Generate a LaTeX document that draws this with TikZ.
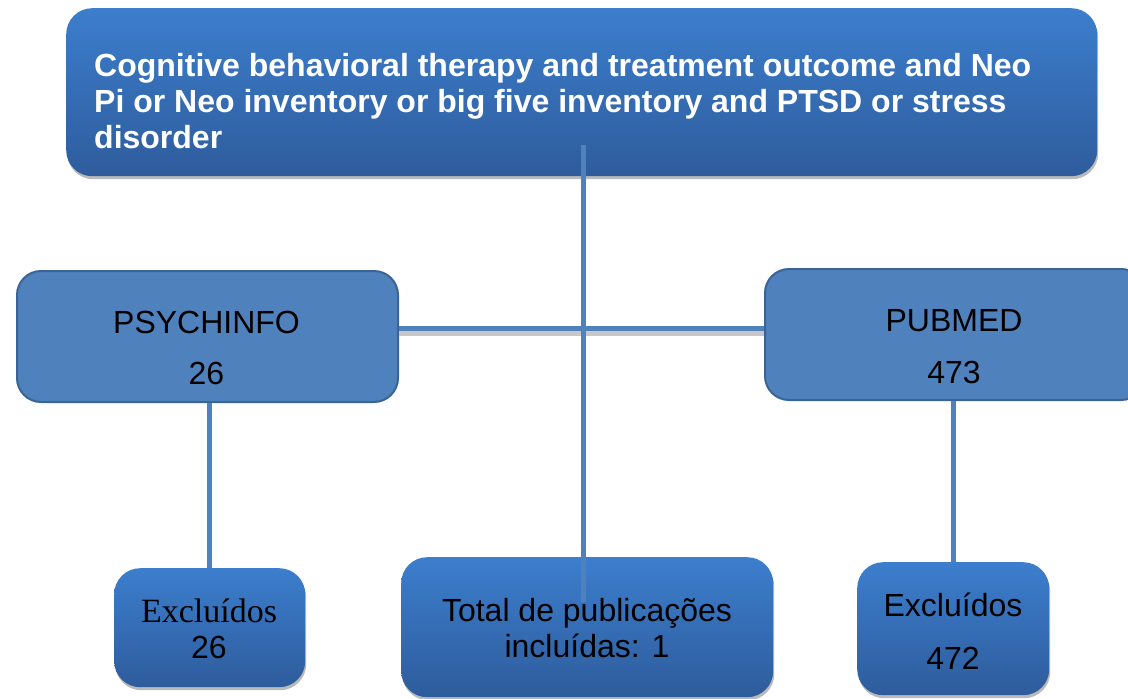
\documentclass[tikz,border=0pt]{standalone}
\usepackage{fontspec}
\setmainfont{Liberation Sans}
\newfontfamily\timesfont{Liberation Serif}
\usetikzlibrary{shadows}
\definecolor{gradtop}{HTML}{3C7ECD}
\definecolor{gradbot}{HTML}{2E5C9C}
\definecolor{flatfill}{HTML}{4F81BD}
\definecolor{flatedge}{HTML}{3A6496}
\definecolor{linkblue}{HTML}{4F81BD}
\tikzset{
  gradbox/.style={rounded corners=26pt, top color=gradtop, bottom color=gradbot,
    draw=none, inner sep=0pt, anchor=north west,
    drop shadow={shadow xshift=1pt, shadow yshift=-3pt, fill=black!45, opacity=0.6}},
  flatbox/.style={rounded corners=24pt, fill=flatfill, draw=flatedge,
    line width=2pt, inner sep=0pt, anchor=north west},
  lbl/.style={anchor=base, font=\fontsize{32}{36}\selectfont, inner sep=0pt},
  titleline/.style={anchor=base west, font=\fontsize{32}{36}\selectfont\bfseries,
    text=white, inner sep=0pt},
  link/.style={draw=linkblue, line width=5pt},
  linkshadow/.style={draw=black!22, line width=4.5pt},
}
\begin{document}
\begin{tikzpicture}[x=1pt,y=-1pt]
  \useasboundingbox[fill=white] (0,0) rectangle (1128,699);

  % boxes
  \node[gradbox, minimum width=1031pt, minimum height=168pt] (query) at (66,8) {};
  \node[flatbox, minimum width=381pt, minimum height=131pt] (psy) at (16,270) {};
  \node[flatbox, minimum width=380pt, minimum height=131pt] (pub) at (764,268) {};
  \node[gradbox, minimum width=191pt, minimum height=119pt] (exl) at (114,568) {};
  \node[gradbox, minimum width=372pt, minimum height=140pt] (tot) at (401,557) {};
  \node[gradbox, minimum width=192pt, minimum height=133pt] (exr) at (857,562) {};

  % connectors
  \coordinate (hlevel) at (0,328.3);
  \coordinate (hlevelshadow) at (0,333.5);
  \coordinate (hubtop) at (583,145);
  \coordinate (hubbot) at (583,602);
  \draw[linkshadow] (psy.east |- hlevelshadow) -- (pub.west |- hlevelshadow);
  \draw[link] (psy.east |- hlevel) -- (pub.west |- hlevel);
  \draw[link] (hubtop) -- (hubbot);
  \draw[link] (exl.north |- psy.south) -- (exl.north);
  \draw[link] (exr.north |- pub.south) -- (exr.north);

  % texts
  \node[titleline] (qa) at (94,76) {Cognitive behavioral therapy and treatment outcome and Neo};
  \node[titleline] (qb) at (94,112) {Pi or Neo inventory or big five inventory and PTSD or stress};
  \node[titleline] (qc) at (94,148) {disorder};

  \node[lbl] (psya) at (206.5,333) {PSYCHINFO};
  \node[lbl] (psyb) at (206.5,384) {26};
  \node[lbl] (puba) at (954,331) {PUBMED};
  \node[lbl] (pubb) at (954,383) {473};
  \node[lbl, font=\fontsize{34}{38}\timesfont] (exla) at (209,622) {Excluídos};
  \node[lbl] (exlb) at (209,658) {26};
  \node[lbl] (tota) at (587,621) {Total de publicações};
  \node[lbl] (totb) at (587,657) {incluídas: 1};
  \node[lbl] (exra) at (953,616) {Excluídos};
  \node[lbl] (exrb) at (953,669) {472};
\end{tikzpicture}
\end{document}
